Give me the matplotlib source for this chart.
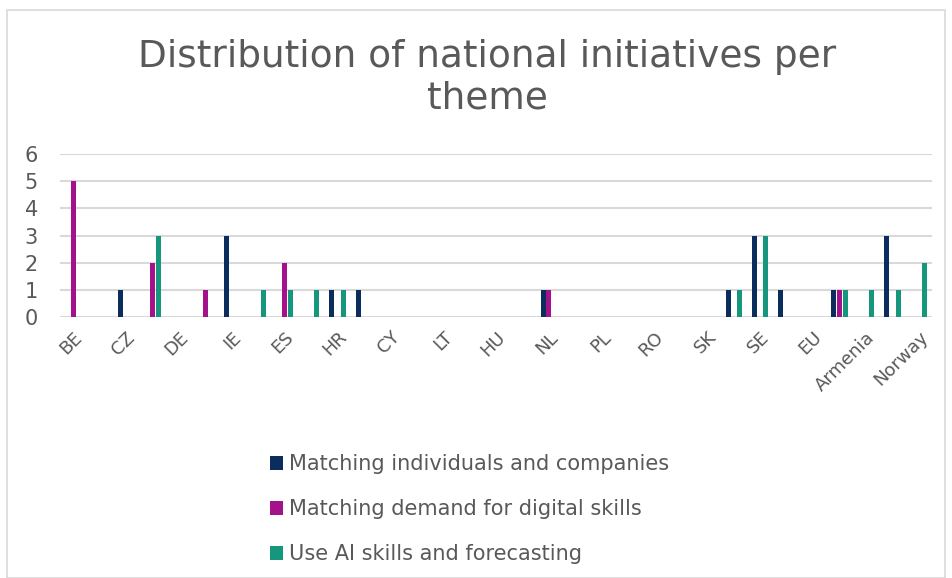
import matplotlib
matplotlib.use("Agg")
import matplotlib.pyplot as plt
import numpy as np
from matplotlib.patches import Rectangle

categories = ["BE", "BG", "CZ", "DK", "DE", "EE", "IE", "EL", "ES", "FR", "HR",
              "IT", "CY", "LV", "LT", "LU", "HU", "MT", "NL", "AT", "PL", "PT",
              "RO", "SI", "SK", "FI", "SE", "UK", "EU", "Albania", "Armenia",
              "Iceland", "Norway"]
matching_individuals = [0, 0, 1, 0, 0, 0, 3, 0, 0, 0, 1, 1, 0, 0, 0, 0, 0, 0, 1, 0,
                        0, 0, 0, 0, 0, 1, 3, 1, 0, 1, 0, 3, 0]
matching_demand = [5, 0, 0, 2, 0, 1, 0, 0, 2, 0, 0, 0, 0, 0, 0, 0, 0, 0, 1, 0,
                   0, 0, 0, 0, 0, 0, 0, 0, 0, 1, 0, 0, 0]
use_ai = [0, 0, 0, 3, 0, 0, 0, 1, 1, 1, 1, 0, 0, 0, 0, 0, 0, 0, 0, 0,
          0, 0, 0, 0, 0, 1, 3, 0, 0, 1, 1, 1, 2]
series_names = ["Matching individuals and companies",
                "Matching demand for digital skills",
                "Use AI skills and forecasting"]
colors = ["#0b2d5e", "#a3128a", "#16967d"]

text_color = "#595959"
fig = plt.figure(figsize=(9.52, 5.78), dpi=100)
fig.patches.append(Rectangle((7/952, 0), 938/952, 1 - 10/578, transform=fig.transFigure,
                             fill=False, edgecolor="#d9d9d9", linewidth=1.2))

ax = fig.add_axes([60/952, 1 - 317/578, 872/952, 163/578])
x = np.arange(len(categories))
w = 0.215
for i, (vals, name, c) in enumerate(zip([matching_individuals, matching_demand, use_ai],
                                        series_names, colors)):
    ax.bar(x + (i - 1) * w, vals, width=w * 0.88, color=c, label=name, zorder=3)

ax.set_xlim(-0.5, len(categories) - 0.5)
ax.set_ylim(0, 6)
ax.set_yticks(range(0, 7))
ax.yaxis.grid(True, color="#d9d9d9", linewidth=1.5, zorder=0)
ax.set_axisbelow(True)
for s in ax.spines.values():
    s.set_visible(False)
ax.tick_params(axis="both", length=0, colors=text_color)
ax.tick_params(axis="y", labelsize=15, pad=16)
shown = x[::2]
ax.set_xticks(shown)
ax.set_xticklabels([categories[i] for i in shown], rotation=45, ha="right",
                   rotation_mode="anchor", fontsize=13, color=text_color)
ax.tick_params(axis="x", pad=8)

fig.text(0.512, 0.865, "Distribution of national initiatives per\ntheme", ha="center",
         va="center", fontsize=27, color=text_color, linespacing=1.2)

handles, labels = ax.get_legend_handles_labels()
fig.legend(handles, labels, loc="upper left", bbox_to_anchor=(262/952, 1 - 446/578),
           frameon=False, fontsize=15, labelcolor=text_color, handlelength=0.6,
           handleheight=0.6, handletextpad=0.3, labelspacing=1.2, borderaxespad=0)

fig.savefig("out.png", dpi=100)
